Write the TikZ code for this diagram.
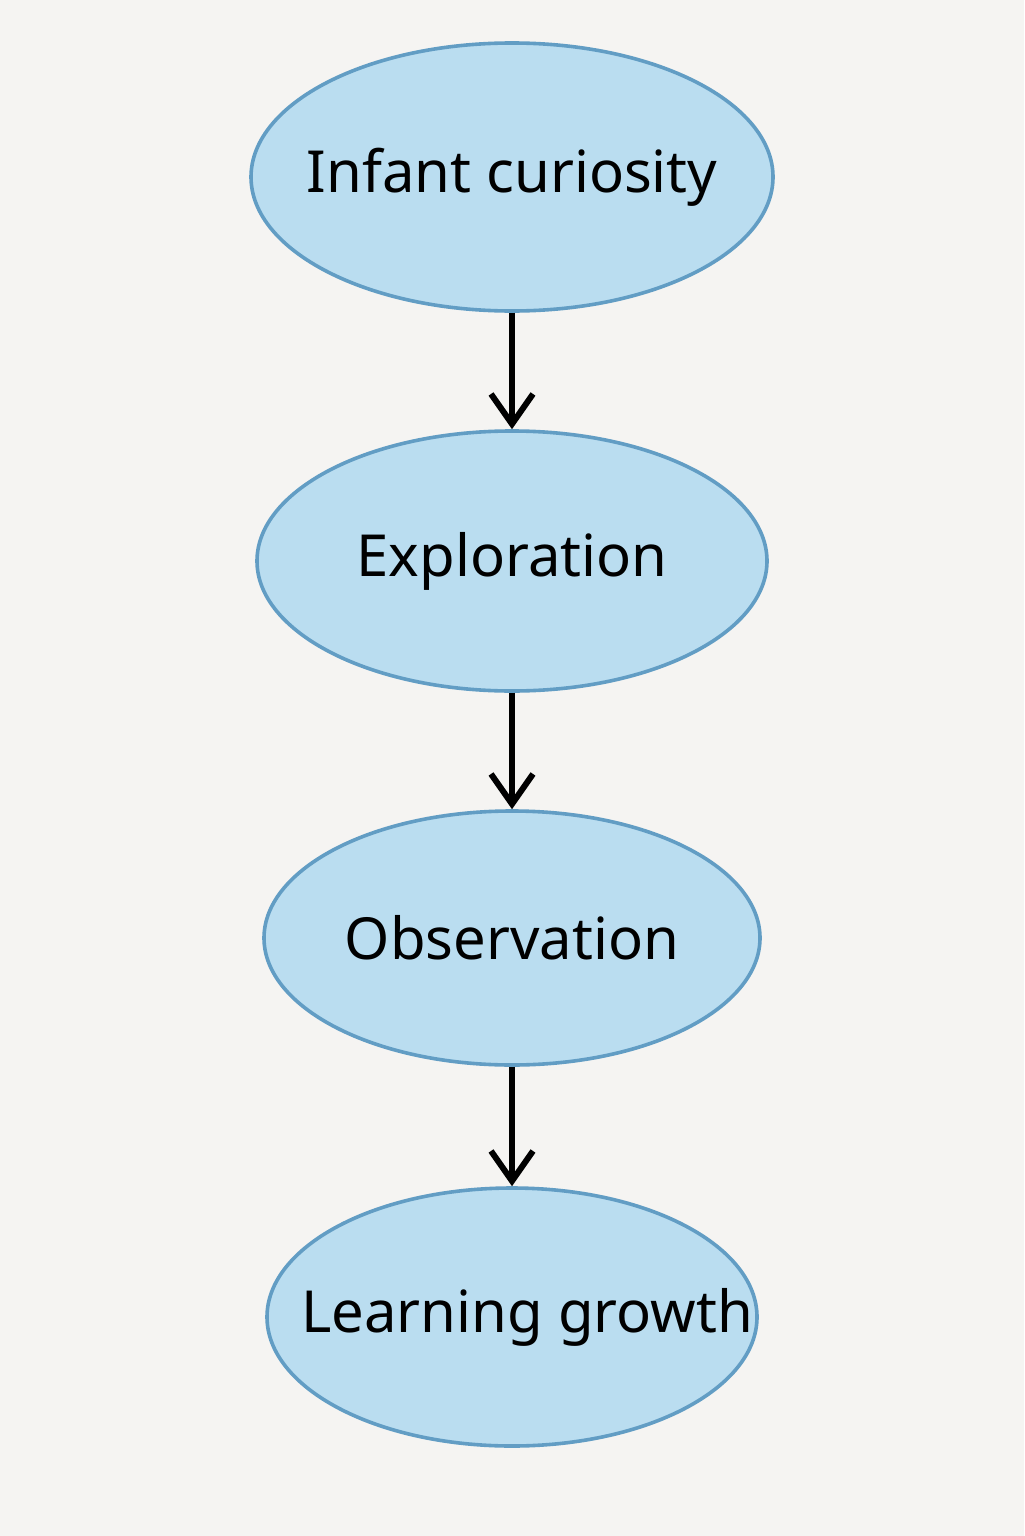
\documentclass[tikz,border=0pt]{standalone}
\usepackage{fontspec}
\setmainfont{Noto Sans}
\usetikzlibrary{shapes.geometric,arrows.meta}

\definecolor{paper}{HTML}{F5F4F2}
\definecolor{stagefill}{HTML}{BADDF0}
\definecolor{stageline}{HTML}{629DC4}

% text in a zero-width box, so the ellipse keeps its own size
\newcommand{\stagetext}[2][0pt]{\makebox[0pt]{\hspace{#1}#2}}

\tikzset{
  stage/.style={ellipse,draw=stageline,fill=stagefill,line width=1.8pt,
    inner sep=0pt,font=\fontsize{29}{34}\selectfont},
  flow/.style={line width=3pt,-{Straight Barb[length=15pt,width=21pt,line width=3pt]}}
}

\begin{document}
\begin{tikzpicture}[x=0.5pt,y=-0.5pt]

        \fill[paper] (0,0) rectangle (1024,1536);
        \useasboundingbox (0,0) rectangle (1024,1536);

        \node[stage,minimum width=261pt,minimum height=134pt] (curiosity)   at (512,177)  {\stagetext{Infant curiosity}};
        \node[stage,minimum width=255pt,minimum height=130pt] (exploration) at (512,561)  {\stagetext{Exploration}};
        \node[stage,minimum width=248pt,minimum height=127pt] (observation) at (512,938)  {\stagetext{Observation}};
        \node[stage,minimum width=245pt,minimum height=129pt] (learning)    at (512,1317) {\stagetext[15pt]{Learning growth}};

        \draw[flow] (curiosity)   -- (exploration);
        \draw[flow] (exploration) -- (observation);
        \draw[flow] (observation) -- (learning);

      \end{tikzpicture}
\end{document}
